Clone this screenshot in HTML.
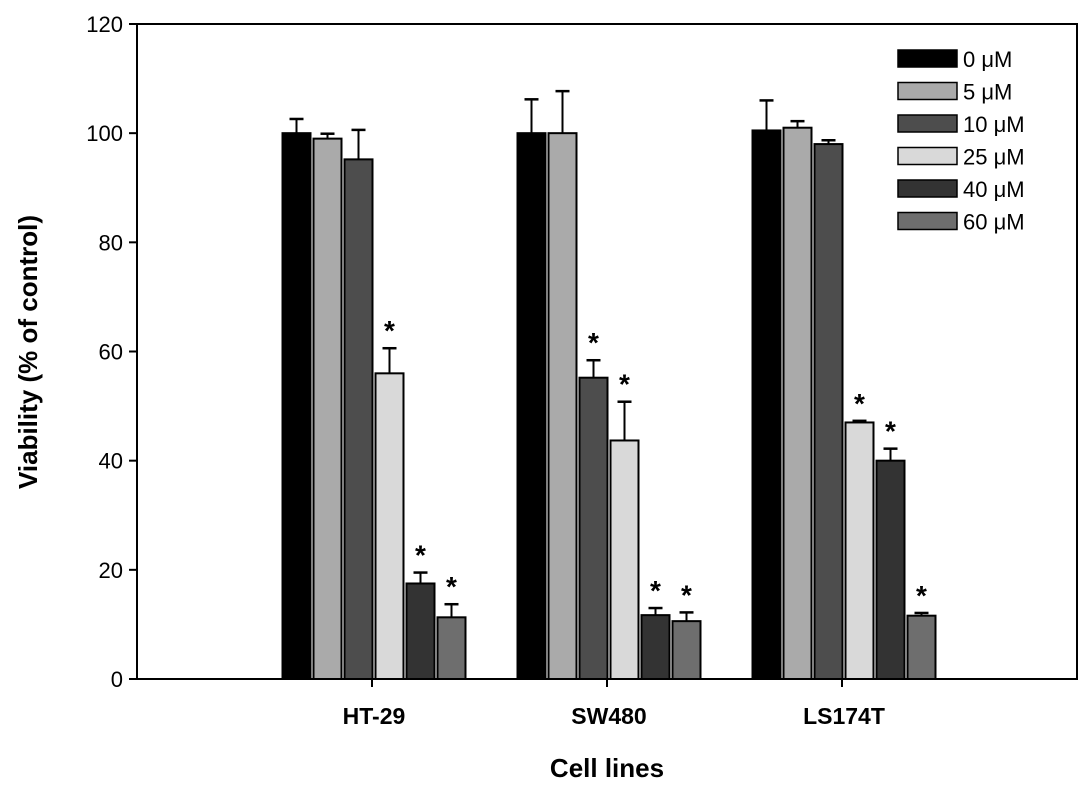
<!DOCTYPE html>
<html><head><meta charset="utf-8"><style>body{margin:0;background:#fff}svg{display:block;font-family:"Liberation Sans",sans-serif}</style></head>
<body>
<svg id="chart" width="1087" height="790" xmlns="http://www.w3.org/2000/svg"></svg>
<script>
const categories=["HT-29","SW480","LS174T"];
const seriesLabels=["0 μM","5 μM","10 μM","25 μM","40 μM","60 μM"];
const values0=[100,100,100.5];
const values5=[99,100,101];
const values10=[95.2,55.2,98];
const values25=[56,43.7,47];
const values40=[17.5,11.7,40];
const values60=[11.3,10.6,11.6];
const err0=[2.6,6.2,5.5];
const err5=[0.9,7.7,1.2];
const err10=[5.4,3.2,0.7];
const err25=[4.6,7.1,0.3];
const err40=[2,1.3,2.2];
const err60=[2.4,1.6,0.5];
const sig0=[0,0,0],sig5=[0,0,0],sig10=[0,1,0],sig25=[1,1,1],sig40=[1,1,1],sig60=[1,1,1];
const yTicks=[0,20,40,60,80,100,120];
const colors=["#000","#aaaaaa","#4d4d4d","#d9d9d9","#333333","#6e6e6e"];
const vals=[values0,values5,values10,values25,values40,values60];
const errs=[err0,err5,err10,err25,err40,err60];
const sigs=[sig0,sig5,sig10,sig25,sig40,sig60];
const L=137,R=1077,T=24,B=679;
const y=v=>B-(v/120)*(B-T);
const x=i=>L+(i+1)*(R-L)/4;
const NS="http://www.w3.org/2000/svg",svg=document.getElementById("chart");
function mk(t,a,p){const e=document.createElementNS(NS,t);for(const k in a)e.setAttribute(k,a[k]);(p||svg).appendChild(e);return e;}
let f=mk("rect",{x:L,y:T,width:R-L,height:B-T,fill:"none",stroke:"#000","stroke-width":2});


yTicks.forEach(v=>{
 const l=mk("line",{x1:L-8,x2:L,y1:y(v),y2:y(v),stroke:"#000","stroke-width":2});
 
 
 const t=mk("text",{x:L-14,y:y(v)+8,"text-anchor":"end","font-size":22});
 
 
 t.textContent=v;
});
const bw=28,step=31;
categories.forEach((c,i)=>{
 const cx=x(i)+2;
 const tk=mk("line",{x1:cx-2,x2:cx-2,y1:B,y2:B+8,stroke:"#000","stroke-width":2});
 
 
 const t=mk("text",{x:cx,y:B+45,"text-anchor":"middle","font-size":23,"font-weight":"bold"});
 
 
 t.textContent=c;
 for(let s=0;s<6;s++){
  const bx=cx-3*step+s*step+1.5, v=vals[s][i], e=errs[s][i];
  const ex=bx+bw/2;
  const el=mk("line",{x1:ex,x2:ex,y1:y(v),y2:y(v+e),stroke:"#000","stroke-width":2});
  
  
  const ec=mk("line",{x1:ex-7,x2:ex+7,y1:y(v+e),y2:y(v+e),stroke:"#000","stroke-width":2.5});
  
  
  const r=mk("rect",{x:bx,y:y(v),width:bw,height:B-y(v),fill:colors[s],stroke:"#000","stroke-width":2});
  
  
  if(sigs[s][i]){
   const st=mk("text",{x:ex,y:y(v+e)+6-14,"text-anchor":"middle","font-size":28,"font-weight":"bold"});
   
   
   st.textContent="*";
  }
 }
});
seriesLabels.forEach((lab,s)=>{
 const yy=50+s*32.5;
 const r=mk("rect",{x:898,y:yy,width:59,height:17,fill:colors[s],stroke:"#000","stroke-width":1.5});
 
 
 const t=mk("text",{x:963,y:yy+17,"font-size":22});
 
 
 t.textContent=lab;
});
const xt=mk("text",{x:607,y:777,"text-anchor":"middle","font-size":26,"font-weight":"bold"});


xt.textContent="Cell lines";
const yt=mk("text",{x:0,y:0,"text-anchor":"middle","font-size":26,"font-weight":"bold",transform:"translate(37,352) rotate(-90)"});


yt.textContent="Viability (% of control)";
</script>
</body></html>
